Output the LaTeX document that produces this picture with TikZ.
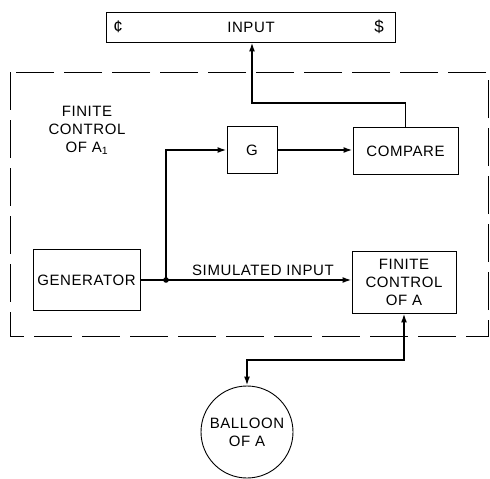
\documentclass[tikz,border=0pt]{standalone}
\usepackage{fontspec}
\setmainfont[LetterSpace=4]{Liberation Sans}
\usetikzlibrary{arrows.meta}
\begin{document}
\begin{tikzpicture}[x=1pt,y=-1pt,
  box/.style={draw,line width=0.9pt,inner sep=0pt,align=center,font=\fontsize{15}{18}\selectfont},
  lbl/.style={inner sep=0pt,align=center,font=\fontsize{15}{18}\selectfont},
  conn/.style={line width=1.7pt,-{Latex[length=9pt,width=6pt]}},
  dconn/.style={line width=1.7pt,{Latex[length=9pt,width=6pt]}-{Latex[length=9pt,width=6pt]}},
  frame/.style={line width=0.9pt,dash pattern=on 38pt off 10pt}]
\useasboundingbox (0,0) rectangle (490,479);
% input tape
\node[box,minimum width=289pt,minimum height=30pt] (inp) at (251,27) {};
\node[lbl,font=\fontsize{17}{18}\selectfont] (cent) at (118,27) {¢};
\node[lbl] (inptxt) at (251,27) {INPUT};
\node[lbl,font=\fontsize{17}{18}\selectfont] (dollar) at (379,27) {\$};
% dashed frame
\draw[frame] (10,72) rectangle (488,336);
\node[lbl] (fcA1) at (87,130) {FINITE\\CONTROL\\OF A\textsubscript{1}};
% boxes
\node[box,minimum width=50pt,minimum height=47pt] (g) at (252,150) {G};
\node[box,minimum width=105pt,minimum height=47pt] (cmp) at (405.5,151) {COMPARE};
\node[box,minimum width=107pt,minimum height=61pt] (gen) at (86.5,280) {GENERATOR};
\node[box,minimum width=104pt,minimum height=62pt] (fca) at (404,282) {FINITE\\CONTROL\\OF A};
\node[draw,circle,line width=0.9pt,minimum size=92pt,inner sep=0pt,align=center,font=\fontsize{15}{18}\selectfont] (bal) at (247,432) {BALLOON\\OF A};
% connectors
\coordinate (j) at (166,280);
\coordinate (tc) at (252,103);
\coordinate (bc) at (247,360);
\fill (j) circle (2.8pt);
\draw[line width=1.7pt] (gen.east |- j) -- (j);
\draw[conn] (j) -- (fca.west |- j);
\draw[conn] (j) |- (g.west);
\draw[conn] (g.east) -- (cmp.west |- g.east);
\draw[conn] (cmp.north) |- (tc) -- (inp.south -| tc);
\draw[dconn] (fca.south) |- (bc) -- (bal.north);
\node[lbl,anchor=south] (sim) at (263,276) {SIMULATED INPUT};
\end{tikzpicture}
\end{document}
